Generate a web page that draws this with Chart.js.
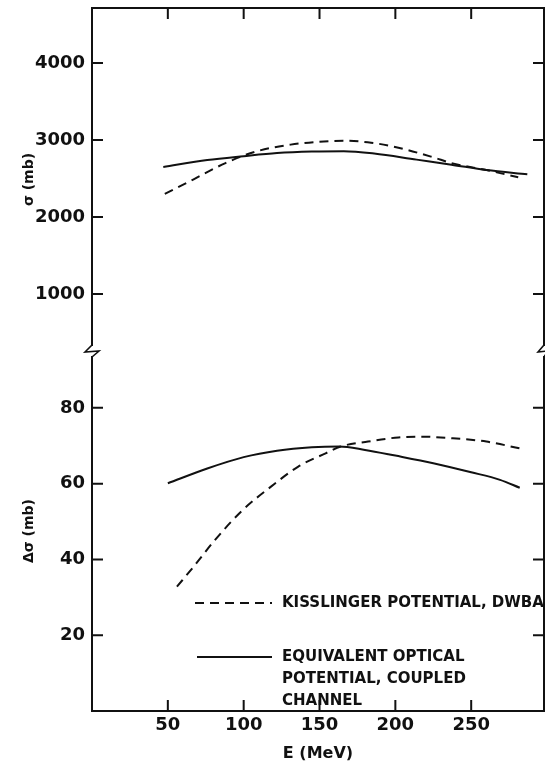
<!DOCTYPE html>
<html>
<head>
<meta charset="utf-8">
<title>Cross sections vs E</title>
<script src="https://cdn.jsdelivr.net/npm/chart.js@4.4.1/dist/chart.umd.min.js"></script>
<style>
	html, body { margin: 0; padding: 0; background: #fff; }
	#wrap { position: relative; width: 545px; height: 763px; }
</style>
</head>
<body>
<div id="wrap"><canvas id="crossChart"></canvas></div>
<script>

// tick labels
var eTicks = [50, 100, 150, 200, 250];
var sigmaTicks = [1000, 2000, 3000, 4000];
var dsigTicks = [20, 40, 60, 80];

// upper panel: sigma (mb)
var eTopSolid = [47, 76, 100, 122, 145, 166, 186, 214, 237, 260, 287];
var sigmaSolid = [2650, 2740, 2790, 2830, 2850, 2855, 2825, 2745, 2680, 2610, 2555];
var eTopDashed = [48, 67, 88, 108, 131, 156, 166, 184, 202, 225, 237, 260, 281];
var sigmaDashed = [2300, 2490, 2700, 2850, 2940, 2985, 2990, 2965, 2900, 2775, 2700, 2610, 2515];

// lower panel: delta sigma (mb)
var eLowSolid = [50, 76, 100, 122, 145, 163, 180, 200, 225, 250, 269, 282];
var dsigSolid = [60.1, 64.0, 67.0, 68.7, 69.6, 69.8, 68.9, 67.4, 65.4, 63.0, 61.0, 58.9];
var eLowDashed = [56, 67, 81, 99, 118, 136, 154, 164, 182, 202, 216, 237, 260, 282];
var dsigDashed = [32.8, 38.1, 45.1, 52.9, 59.2, 64.5, 68.0, 69.8, 71.1, 72.2, 72.4, 72.0, 71.1, 69.3];

var dashedLabel = ['KISSLINGER POTENTIAL, DWBA'];
var solidLabel = ['EQUIVALENT OPTICAL', 'POTENTIAL, COUPLED', 'CHANNEL'];

var ink = '#111';
var tickFont = { family: 'DejaVu Sans', size: 18, weight: 'bold' };
var titleFont = { family: 'DejaVu Sans', size: 14, weight: 'bold' };

function pts(xs, ys) {
	return xs.map(function (x, i) { return { x: x, y: ys[i] }; });
}

function fixedTicks(list) {
	return function (scale) {
		scale.ticks = list.map(function (v) { return { value: v }; });
	};
}

// y axes: fixed width, no extra label padding above/below
function fitY(s) {
	s.width = 92;
	s.paddingTop = 0;
	s.paddingBottom = 0;
}

function lineSet(label, xs, ys, axis, dash) {
	return {
		label: label.join(' '),
		data: pts(xs, ys),
		yAxisID: axis,
		borderColor: ink,
		borderWidth: 2,
		borderDash: dash,
		pointRadius: 0,
		fill: false,
		cubicInterpolationMode: 'monotone'
	};
}

// frame, inward ticks on all four sides, axis break
var framePlugin = {
	id: 'frame',
	afterDatasetsDraw: function (chart) {
		var ctx = chart.ctx;
		var a = chart.chartArea;
		var sx = chart.scales.x;
		var t = 11;
		ctx.save();
		ctx.strokeStyle = ink;
		ctx.lineWidth = 2;
		ctx.strokeRect(a.left, a.top, a.right - a.left, a.bottom - a.top);
		ctx.beginPath();
		sx.ticks.forEach(function (tk) {
			var px = sx.getPixelForValue(tk.value);
			ctx.moveTo(px, a.bottom); ctx.lineTo(px, a.bottom - t);
			ctx.moveTo(px, a.top); ctx.lineTo(px, a.top + t);
		});
		[chart.scales.yTop, chart.scales.yLow].forEach(function (s) {
			s.ticks.forEach(function (tk) {
				var py = s.getPixelForValue(tk.value);
				ctx.moveTo(a.left, py); ctx.lineTo(a.left + t, py);
				ctx.moveTo(a.right, py); ctx.lineTo(a.right - t, py);
			});
		});
		ctx.stroke();

		// axis break between the panels
		var yb = chart.scales.yTop.bottom;
		ctx.fillStyle = '#fff';
		ctx.fillRect(a.left - 2, yb - 5, 4, 10);
		ctx.fillRect(a.right - 2, yb - 5, 4, 10);
		ctx.lineWidth = 1.6;
		ctx.beginPath();
		ctx.moveTo(a.left, yb - 6);
		ctx.lineTo(a.left - 7, yb + 1);
		ctx.lineTo(a.left + 7, yb);
		ctx.lineTo(a.left, yb + 6);
		ctx.moveTo(a.right, yb - 6);
		ctx.lineTo(a.right - 6, yb + 1);
		ctx.lineTo(a.right + 4, yb);
		ctx.lineTo(a.right, yb + 6);
		ctx.stroke();
		ctx.restore();
	}
};

// legend inside the lower panel
var keyPlugin = {
	id: 'key',
	afterDraw: function (chart, args, opts) {
		var ctx = chart.ctx;
		ctx.save();
		ctx.strokeStyle = ink;
		ctx.fillStyle = ink;
		ctx.lineWidth = 2;
		ctx.font = opts.font;
		ctx.textBaseline = 'middle';
		opts.items.forEach(function (it) {
			ctx.setLineDash(it.dash);
			ctx.beginPath();
			ctx.moveTo(it.x0, it.y);
			ctx.lineTo(it.x1, it.y);
			ctx.stroke();
			ctx.setLineDash([]);
			it.lines.forEach(function (txt, i) {
				ctx.fillText(txt, opts.textX, it.y + i * opts.lineGap);
			});
		});
		ctx.restore();
	}
};

var ctx = document.getElementById('crossChart');
var myChart = new Chart(ctx, {
	type: 'line',
	data: {
		datasets: [
			lineSet(solidLabel, eTopSolid, sigmaSolid, 'yTop', []),
			lineSet(dashedLabel, eTopDashed, sigmaDashed, 'yTop', [9, 6]),
			lineSet(solidLabel, eLowSolid, dsigSolid, 'yLow', []),
			lineSet(dashedLabel, eLowDashed, dsigDashed, 'yLow', [9, 6])
		]
	},
	options: {
		responsive: true,
		maintainAspectRatio: false,
		animation: false,
		events: [],
		layout: {
			padding: { top: 8, right: 1, left: 0, bottom: 0 }
		},
		scales: {
			x: {
				type: 'linear',
				min: 0,
				max: 298,
				grid: { display: false, drawTicks: false },
				border: { display: false },
				afterBuildTicks: fixedTicks(eTicks),
				afterFit: function (s) { s.height = 52; },
				ticks: {
					color: ink,
					font: tickFont,
					padding: 4,
					maxRotation: 0,
					autoSkip: false,
					callback: function (v) { return String(v); }
				},
				title: {
					display: true,
					text: 'E (MeV)',
					color: ink,
					font: { family: 'DejaVu Sans', size: 16, weight: 'bold' },
					padding: { top: 0, bottom: 0 }
				}
			},
			// first stacked scale is laid out at the bottom
			yLow: {
				type: 'linear',
				axis: 'y',
				position: 'left',
				stack: 'panels',
				stackWeight: 360,
				min: 0,
				max: 95,
				grid: { display: false, drawTicks: false },
				border: { display: false },
				afterBuildTicks: fixedTicks(dsigTicks),
				afterFit: fitY,
				ticks: {
					color: ink,
					font: tickFont,
					padding: 7,
					callback: function (v) { return String(v); }
				},
				title: {
					display: true,
					text: 'Δσ (mb)',
					color: ink,
					font: titleFont,
					padding: { top: 21, bottom: 0 }
				}
			},
			yTop: {
				type: 'linear',
				axis: 'y',
				position: 'left',
				stack: 'panels',
				stackWeight: 343,
				min: 260,
				max: 4714,
				grid: { display: false, drawTicks: false },
				border: { display: false },
				afterBuildTicks: fixedTicks(sigmaTicks),
				afterFit: fitY,
				ticks: {
					color: ink,
					font: tickFont,
					padding: 7,
					callback: function (v) { return String(v); }
				},
				title: {
					display: true,
					text: 'σ (mb)',
					color: ink,
					font: titleFont,
					padding: { top: 21, bottom: 0 }
				}
			}
		},
		plugins: {
			legend: { display: false },
			tooltip: { enabled: false },
			key: {
				font: 'bold 15px "DejaVu Sans"',
				textX: 282,
				lineGap: 22,
				items: [
					{ dash: [9, 6], x0: 195, x1: 272, y: 603, lines: dashedLabel },
					{ dash: [], x0: 197, x1: 272, y: 657, lines: solidLabel }
				]
			}
		}
	},
	plugins: [framePlugin, keyPlugin]
});
</script>
</body>
</html>
